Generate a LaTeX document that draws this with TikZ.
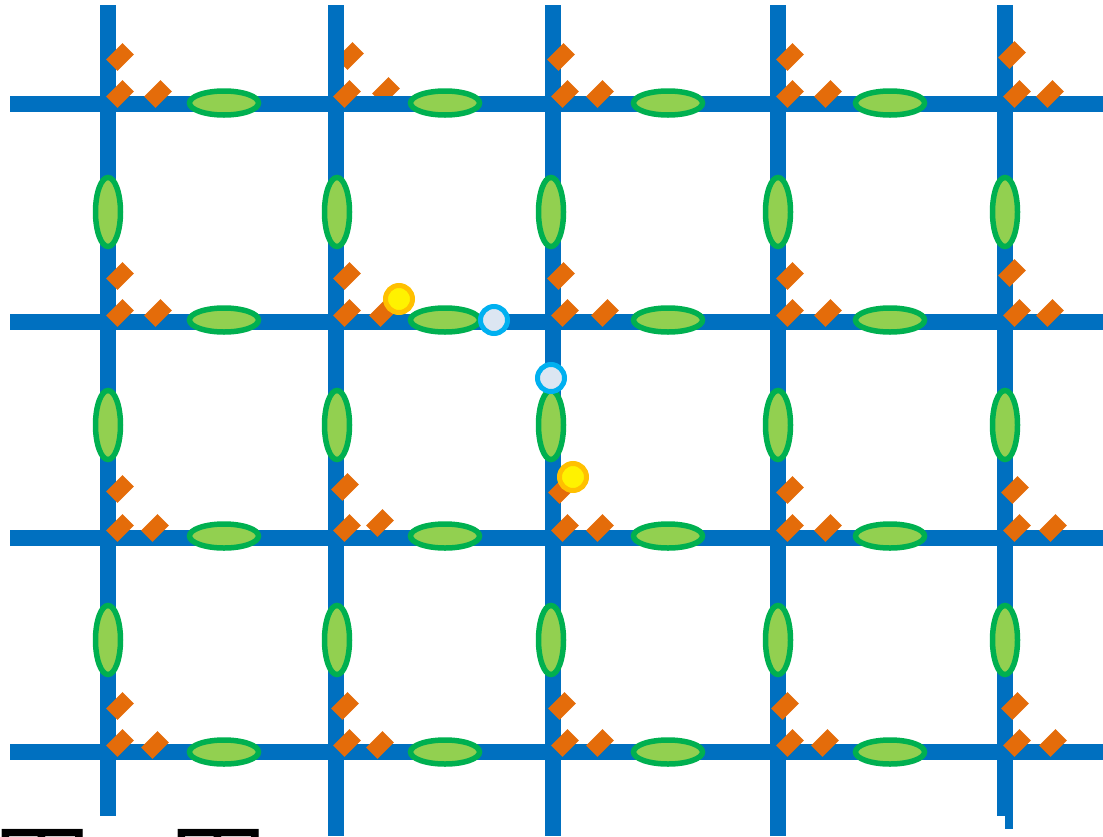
\documentclass[tikz,border=0pt]{standalone}
\usepackage{fontspec}
\newfontfamily\cjk{Noto Sans CJK SC}
\usetikzlibrary{shapes.geometric}
\definecolor{gridblue}{HTML}{0070C0}
\definecolor{dorange}{HTML}{E46C0A}
\definecolor{lgreen}{HTML}{92D050}
\definecolor{dgreen}{HTML}{00B050}
\definecolor{ybord}{HTML}{FFC000}
\definecolor{lblue}{HTML}{DCE6F2}
\definecolor{cyanb}{HTML}{00B0F0}
\tikzset{
  gridline/.style={draw=gridblue,line width=16pt},
  hell/.style={ellipse,draw=dgreen,fill=lgreen,line width=5.5pt,minimum width=69pt,minimum height=24pt,inner sep=0pt},
  vell/.style={ellipse,draw=dgreen,fill=lgreen,line width=5.5pt,minimum width=25pt,minimum height=69pt,inner sep=0pt},
  dia/.style={rectangle,fill=dorange,minimum width=23pt,minimum height=16pt,inner sep=0pt,rotate=45},
  ydot/.style={circle,draw=ybord,fill=yellow,line width=5pt,minimum size=27pt,inner sep=0pt},
  bdot/.style={circle,draw=cyanb,fill=lblue,line width=5pt,minimum size=27pt,inner sep=0pt},
}
\begin{document}
\begin{tikzpicture}[x=1pt,y=-1pt]
\useasboundingbox (0,0) rectangle (1103,836);
\clip (0,0) rectangle (1103,836);
% grid lines
\foreach \r/\y in {1/104,2/322,3/538,4/752}{
  \coordinate (hl\r) at (10,\y);
  \coordinate (hr\r) at (1103,\y);
  \draw[gridline] (hl\r) -- (hr\r);
}
\coordinate (vt1) at (108,5); \coordinate (vb1) at (108,816);
\coordinate (vt2) at (336,5); \coordinate (vb2) at (336,836);
\coordinate (vt3) at (553,5); \coordinate (vb3) at (553,836);
\coordinate (vt4) at (778,5); \coordinate (vb4) at (778,836);
\coordinate (vt5) at (1005,5); \coordinate (vb5) at (1005,816);
\foreach \c in {1,...,5}{\draw[gridline] (vt\c) -- (vb\c);}
\coordinate (st) at (1009,810); \coordinate (sb) at (1009,829);
\draw[draw=gridblue,line width=8pt] (st) -- (sb);
% diamonds partly behind at column 2 top
\node[dia] (d2a) at (350,56) {};
\node[dia] (d2c) at (386,91) {};
\draw[gridline] (336,20) -- (336,120);
\draw[gridline] (330,104) -- (420,104);
% diamonds
\foreach \n/\x/\y in {
 a1/120/57, b1/120/94, c1/158/94,
 b2/347/94,
 a3/561/57, b3/565/94, c3/600/94,
 a4/790/57, b4/790/94, c4/828/94,
 a5/1012/55, b5/1017/94, c5/1050/94,
 e1/120/276, f1/120/313, g1/158/313,
 e2/347/276, f2/347/313, g2/383/313,
 e3/561/276, f3/565/313, g3/605/313,
 e4/790/276, f4/790/313, g4/828/313,
 e5/1012/273, f5/1017/313, g5/1050/313,
 h1/120/489, i1/120/528, j1/155/528,
 h2/345/487, i2/347/528, j2/380/523,
 h3/562/490, i3/565/528, j3/600/528,
 h4/790/490, i4/790/528, j4/828/528,
 h5/1015/490, i5/1017/528, j5/1053/528,
 k1/120/706, l1/120/743, m1/155/745,
 k2/345/706, l2/347/743, m2/380/745,
 k3/562/706, l3/565/743, m3/600/743,
 k4/785/706, l4/790/743, m4/825/743,
 k5/1015/706, l5/1017/743, m5/1053/743}{
  \node[dia] (d\n) at (\x,\y) {};
}
% horizontal ellipses
\foreach \r/\y in {1/103,2/320,3/536,4/752}{
  \foreach \c/\x in {1/224,2/445,3/668,4/890}{
    \node[hell] (he\r\c) at (\x,\y) {};
  }
}
% vertical ellipses
\foreach \r/\y in {1/212,2/425,3/640}{
  \foreach \c/\x in {1/108,2/337,3/551,4/778,5/1005}{
    \node[vell] (ve\r\c) at (\x,\y) {};
  }
}
% dots
\node[ydot] (y1) at (399,299) {};
\node[ydot] (y2) at (573,477) {};
\node[bdot] (b1) at (494,320) {};
\node[bdot] (b2) at (551,378) {};
% cut-off text (only its top shows in the reference)
\node[anchor=base,inner sep=0pt,font=\cjk\fontsize{100}{100}\selectfont] (t1) at (42,906) {田};
\node[anchor=base,inner sep=0pt,font=\cjk\fontsize{100}{100}\selectfont] (t2) at (218,906) {田};
\end{tikzpicture}
\end{document}
